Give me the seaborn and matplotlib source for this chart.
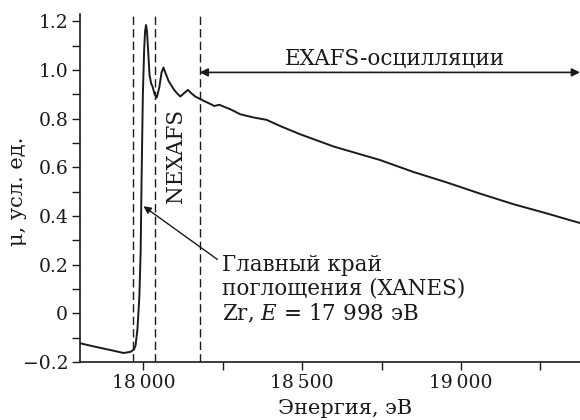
import numpy as np
import pandas as pd
import matplotlib
matplotlib.use("Agg")
import matplotlib.pyplot as plt
import seaborn as sns

# ---- data ----
energy = [17800, 17850, 17900, 17937, 17960, 17970, 17975, 17981, 17987, 17991,
          17994, 17998, 18002, 18005, 18008, 18011, 18015, 18019, 18024, 18029,
          18035, 18042, 18050, 18057, 18063, 18070, 18079, 18095, 18105, 18116,
          18128, 18140, 18150, 18163, 18179, 18195, 18211, 18223, 18239, 18255,
          18273, 18305, 18346, 18388, 18430, 18493, 18600, 18745, 18850, 18955,
          19060, 19164, 19269, 19375]
mu = [-0.123, -0.138, -0.152, -0.163, -0.158, -0.148, -0.132, -0.064, 0.07, 0.25,
      0.55, 0.90, 1.08, 1.16, 1.185, 1.16, 1.07, 0.98, 0.945, 0.93,
      0.90, 0.887, 0.93, 0.99, 1.01, 0.985, 0.955, 0.921, 0.905, 0.891,
      0.905, 0.918, 0.905, 0.891, 0.880, 0.870, 0.860, 0.852, 0.857, 0.848,
      0.839, 0.818, 0.805, 0.795, 0.770, 0.736, 0.685, 0.630, 0.581, 0.538,
      0.492, 0.449, 0.411, 0.371]

region_lines = [17966, 18035, 18177]

x_ticks = [18000, 18500, 19000]
x_tick_labels = ["18\u2009000", "18\u2009500", "19\u2009000"]
y_ticks = [-0.2, 0, 0.2, 0.4, 0.6, 0.8, 1.0, 1.2]
y_tick_labels = ["\u22120.2", "0", "0.2", "0.4", "0.6", "0.8", "1.0", "1.2"]

xlabel = "Энергия, эВ"
ylabel = "μ, усл. ед."
nexafs_label = "NEXAFS"
exafs_label = "EXAFS-осцилляции"
edge_label = "Главный край\nпоглощения (XANES)\nZr, $E$ = 17 998 эВ"

# ---- style ----
sns.set_style("ticks")
plt.rcParams["font.family"] = ["DejaVu Serif"]
plt.rcParams["mathtext.fontset"] = "dejavuserif"
FS_TICK = 13.5
FS_LAB = 15
FS_TXT = 15.5
INK = "#1a1a1a"

df = pd.DataFrame({"E": energy, "mu": mu})

fig = plt.figure(figsize=(5.8, 4.2), dpi=100)
ax = fig.add_axes([80 / 580, 1 - 362 / 420, 500 / 580, (362 - 14) / 420])

sns.lineplot(data=df, x="E", y="mu", ax=ax, color=INK, lw=1.4,
             estimator=None, sort=False)

for xv in region_lines:
    ax.axvline(xv, color=INK, lw=1.0, ls=(0, (6, 3)))

ax.set_xlim(17800, 19375)
ax.set_ylim(-0.2, 1.23)

ax.set_xticks(x_ticks)
ax.set_xticklabels(x_tick_labels, fontsize=FS_TICK)
ax.set_xticks([18250, 18750, 19250], minor=True)
ax.set_yticks(y_ticks)
ax.set_yticklabels(y_tick_labels, fontsize=FS_TICK)
ax.set_yticks(np.arange(-0.1, 1.21, 0.2), minor=True)

ax.tick_params(which="both", direction="out", length=5.5, width=1.0,
               color=INK, labelcolor=INK, pad=3)
for s in ["top", "right"]:
    ax.spines[s].set_visible(False)
for s in ["left", "bottom"]:
    ax.spines[s].set_linewidth(1.2)
    ax.spines[s].set_color(INK)

ax.set_xlabel(xlabel, fontsize=FS_LAB, color=INK)
ax.set_ylabel(ylabel, fontsize=FS_LAB, color=INK)
ax.xaxis.set_label_coords(0.53, -0.105)
ax.yaxis.set_label_coords(-0.105, 0.49)

# NEXAFS rotated label
ax.text(18103, 0.645, nexafs_label, rotation=90, ha="center", va="center",
        fontsize=FS_TXT, color=INK)

# EXAFS double arrow
ax.annotate("", xy=(18177, 0.99), xytext=(19375, 0.99),
            arrowprops=dict(arrowstyle="<|-|>", color=INK, lw=1.2,
                            mutation_scale=12, shrinkA=0, shrinkB=0),
            annotation_clip=False)
ax.text(18792, 0.998, exafs_label, ha="center", va="bottom",
        fontsize=FS_TXT, color=INK)

# main edge annotation
ax.annotate(edge_label, xy=(18000, 0.44), xytext=(18248, 0.245),
            ha="left", va="top", fontsize=FS_TXT, color=INK,
            linespacing=1.12,
            arrowprops=dict(arrowstyle="-|>", color=INK, lw=1.0,
                            mutation_scale=11, shrinkA=0, shrinkB=0,
                            relpos=(-0.02, 0.92)))

fig.savefig("out.png", dpi=100)
